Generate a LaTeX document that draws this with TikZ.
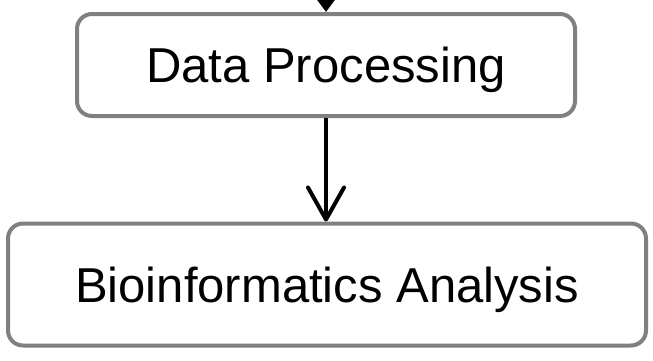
\documentclass[tikz,border=0pt]{standalone}
\usepackage{fontspec}
\setmainfont{Liberation Sans}
\usetikzlibrary{arrows.meta}
\definecolor{boxgray}{RGB}{128,128,128}
\tikzset{
  stepbox/.style={draw=boxgray, line width=4pt, fill=white, rounded corners=15pt,
    inner sep=0pt, text height=35pt, text depth=0pt, font=\fontsize{49}{58}\selectfont},
  flowarrow/.style={line width=4pt, black},
}
\begin{document}
\begin{tikzpicture}[x=1pt,y=1pt]
\useasboundingbox (0,0) rectangle (653,-360);
\clip (0,0) rectangle (653,-360);
\fill[white] (0,0) rectangle (653,-360);
\node[stepbox, minimum width=498pt, minimum height=102pt] (dp) at (326,-65) {Data Processing};
\node[stepbox, minimum width=638pt, minimum height=122pt] (ba) at (327,-284.5) {Bioinformatics Analysis};
\coordinate (src) at (326,20);
\draw[flowarrow, -{Triangle[length=17pt,width=24pt]}] (src) -- (dp.north -| src);
\draw[flowarrow, -{Straight Barb[length=32pt,width=36pt,line width=4pt,round]}] (dp.south) -- (ba.north -| dp.south);
\end{tikzpicture}
\end{document}
